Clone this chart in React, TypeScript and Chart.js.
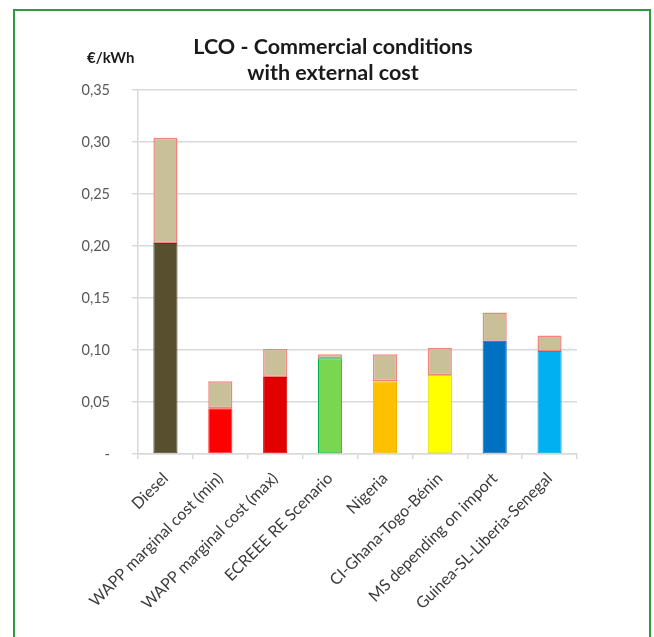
import React, { useEffect, useRef } from "react";
import { Chart, registerables } from "chart.js";

Chart.register(...registerables);

const categories = [
  "Diesel",
  "WAPP marginal cost (min)",
  "WAPP marginal cost (max)",
  "ECREEE RE Scenario",
  "Nigeria",
  "CI-Ghana-Togo-Bénin",
  "MS depending on import",
  "Guinea-SL-Liberia-Senegal",
];
const baseCost = [0.203, 0.044, 0.074, 0.092, 0.07, 0.076, 0.109, 0.099];
const externalCost = [0.101, 0.026, 0.027, 0.004, 0.026, 0.026, 0.027, 0.015];
const baseColors = ["#574f2d", "#ff0000", "#e00000", "#7ad651", "#ffc000", "#ffff00", "#0070c0", "#00b0f0"];
const baseBorders = ["#4a4326", "#ff3030", "#d00000", "#00b050", "#f5b000", "#d8d800", "#0068b0", "#00a0e0"];
const titleLines = ["LCO - Commercial conditions", "with external cost"];
const unitLabel = "€/kWh";

const FONT = "Lato, 'Noto Sans', sans-serif";

const labelPlugin = {
  id: "customTitle",
  afterDraw(chart: any) {
    const ctx = chart.ctx;
    ctx.save();
    ctx.fillStyle = "#1a1a1a";
    ctx.textAlign = "center";
    ctx.textBaseline = "middle";
    ctx.font = `bold 21.5px ${FONT}`;
    ctx.fillText(titleLines[0], 319, 47);
    ctx.fillText(titleLines[1], 319, 73);
    ctx.textAlign = "left";
    ctx.font = `bold 15px ${FONT}`;
    ctx.fillText(unitLabel, 73, 58);
    ctx.restore();
  },
};

export default function App() {
  const ref = useRef<HTMLCanvasElement>(null);
  useEffect(() => {
    if (!ref.current) return;
    const chart = new Chart(ref.current, {
      type: "bar",
      data: {
        labels: categories,
        datasets: [
          {
            label: "Cost",
            data: baseCost,
            backgroundColor: baseColors,
            borderColor: baseBorders,
            borderWidth: 1,
            borderSkipped: false,
            barPercentage: 0.44,
            categoryPercentage: 1,
          },
          {
            label: "External cost",
            data: externalCost,
            backgroundColor: "#c9c09a",
            borderColor: "#f4837d",
            borderWidth: 1.5,
            borderSkipped: false,
            barPercentage: 0.44,
            categoryPercentage: 1,
          },
        ],
      },
      options: {
        responsive: false,
        animation: false,
        devicePixelRatio: 1,
        layout: { padding: { left: 0, right: 73, top: 90, bottom: 0 } },
        plugins: {
          legend: { display: false },
          title: { display: false },
          tooltip: { enabled: false },
        },
        scales: {
          x: {
            stacked: true,
            afterFit(scale: any) {
              scale.height = 183;
            },
            grid: {
              offset: true,
              drawOnChartArea: false,
              drawTicks: true,
              tickLength: 5,
              color: "#d9d9d9",
              lineWidth: 1.5,
            },
            border: { color: "#d9d9d9", width: 1.5 },
            ticks: {
              autoSkip: false,
              maxRotation: 45,
              minRotation: 45,
              padding: 10,
              color: "#3a3a3a",
              font: { family: FONT, size: 16 },
            },
          },
          y: {
            stacked: true,
            min: 0,
            max: 0.35,
            afterFit(scale: any) {
              scale.width = 124;
            },
            grid: {
              color: "#d9d9d9",
              lineWidth: 1.5,
              drawTicks: true,
              tickLength: 6,
            },
            border: { color: "#d9d9d9", width: 1.5 },
            ticks: {
              stepSize: 0.05,
              padding: 22,
              color: "#595959",
              font: { family: FONT, size: 14.5 },
              callback: (v: any) => {
                const n = Number(v);
                if (Math.abs(n) < 1e-9) return "-";
                return n.toFixed(2).replace(".", ",");
              },
            },
          },
        },
      },
      plugins: [labelPlugin],
    } as any);
    return () => chart.destroy();
  }, []);
  return (
    <div style={{ position: "absolute", left: 0, top: 0, width: 654, height: 637, overflow: "hidden", background: "#fff" }}>
      <div
        style={{
          position: "absolute",
          left: 13,
          top: 9,
          width: 638,
          height: 640,
          boxSizing: "border-box",
          border: "2px solid #2e9a3e",
          borderBottom: "none",
        }}
      />
      <canvas ref={ref} width={636} height={637} style={{ position: "absolute", left: 14, top: 0, width: 636, height: 637 }} />
    </div>
  );
}
